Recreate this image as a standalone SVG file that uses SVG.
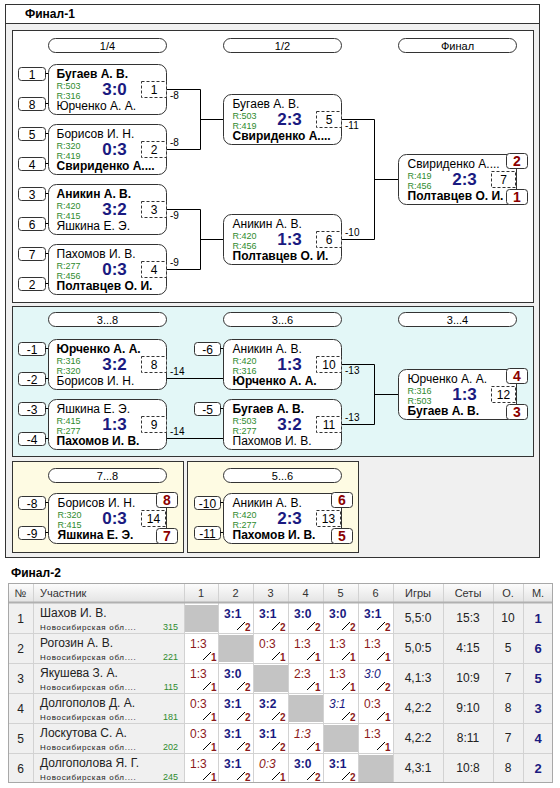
<svg xmlns="http://www.w3.org/2000/svg" width="560" height="788" viewBox="0 0 560 788">
<defs>
<linearGradient id="hg" x1="0" y1="0" x2="0" y2="1"><stop offset="0" stop-color="#fdfdfd"/><stop offset="1" stop-color="#e4e4e4"/></linearGradient>
<style>
text{font-family:"Liberation Sans",Arial,sans-serif;fill:#000}
.mb{fill:#fff;stroke:#333;stroke-width:1}
.sd{fill:#fff;stroke:#333;stroke-width:1}
.db{fill:#fff;stroke:#333;stroke-width:1;stroke-dasharray:3 2}
.pb{fill:#fff;stroke:#333;stroke-width:1}
.pill{fill:#fff;stroke:#333;stroke-width:1}
.cn{fill:none;stroke:#000;stroke-width:1}
.nb{font-size:12px;font-weight:bold}
.nn{font-size:12px}
.r{font-size:9px;fill:#2e8b2e}
.sc{font-size:17px;font-weight:bold;fill:#1a1a80;text-anchor:middle}
.dn{font-size:12px;text-anchor:middle}
.sn{font-size:12px;text-anchor:middle}
.pn{font-size:14px;font-weight:bold;fill:#8b0000;text-anchor:middle}
.lb{font-size:10px}
.pt{font-size:11px;text-anchor:middle}
.ttl{font-size:12px;font-weight:bold}
.th{font-size:11px;fill:#333}
.thc{font-size:11px;fill:#333;text-anchor:middle}
.tn{font-size:12px;fill:#222}
.tnc{font-size:12px;fill:#222;text-anchor:middle}
.rg{font-size:8px;fill:#222;letter-spacing:0.7px}
.rt{font-size:9px;fill:#2e8b2e;text-anchor:end}
.w{font-size:12px;font-weight:bold;fill:#1a1a80}
.wi{font-size:12px;font-style:italic;fill:#1a1a80}
.l{font-size:12px;fill:#8b1a1a}
.li{font-size:12px;font-style:italic;fill:#8b1a1a}
.d{font-size:10px;font-weight:bold;fill:#8b1a1a}
.sl{stroke:#000;stroke-width:1}
.gr{fill:#c4c4c4}
.pm{font-size:13px;font-weight:bold;fill:#1a1a80;text-anchor:middle}
.grid{stroke:#d2d2d2;stroke-width:1}
</style>
</defs>
<rect x="0" y="0" width="560" height="788" fill="#fff"/>
<g id="frame">
<rect x="5.5" y="4.5" width="534" height="553" fill="#f0f0f0" stroke="#333"/>
<rect x="5.5" y="4.5" width="534" height="19" fill="#fff" stroke="#333"/>
<text class="ttl" x="25" y="18">Финал-1</text>
<rect x="12.5" y="30.5" width="521" height="272" fill="#fff" stroke="#333"/>
<rect x="12.5" y="306.5" width="521" height="150" fill="#e3f7f7" stroke="#333"/>
<rect x="12.5" y="461.5" width="171" height="91" fill="#fefbe3" stroke="#333"/>
<rect x="187.5" y="461.5" width="171" height="91" fill="#fefbe3" stroke="#333"/>
</g>
<g id="pills">
<rect class="pill" x="48.5" y="38.5" width="118" height="14" rx="7"/><text class="pt" x="107.5" y="49.5">1/4</text>
<rect class="pill" x="223.5" y="38.5" width="118" height="14" rx="7"/><text class="pt" x="282.5" y="49.5">1/2</text>
<rect class="pill" x="398.5" y="38.5" width="118" height="14" rx="7"/><text class="pt" x="457.5" y="49.5">Финал</text>
<rect class="pill" x="48.5" y="312.5" width="118" height="14" rx="7"/><text class="pt" x="107.5" y="323.5">3...8</text>
<rect class="pill" x="223.5" y="312.5" width="118" height="14" rx="7"/><text class="pt" x="282.5" y="323.5">3...6</text>
<rect class="pill" x="398.5" y="312.5" width="118" height="14" rx="7"/><text class="pt" x="457.5" y="323.5">3...4</text>
<rect class="pill" x="48.5" y="468.5" width="118" height="14" rx="7"/><text class="pt" x="107.5" y="479.5">7...8</text>
<rect class="pill" x="223.5" y="468.5" width="118" height="14" rx="7"/><text class="pt" x="282.5" y="479.5">5...6</text>
</g>
<g id="connectors">
<path class="cn" d="M166 89.5H200.5V149.5H166M200.5 119.5H223"/>
<path class="cn" d="M166 209.5H200.5V269.5H166M200.5 239.5H223"/>
<path class="cn" d="M341 119.5H374.5V239.5H341M374.5 179.5H398"/>
<path class="cn" d="M166 378.5H223M166 438.5H223"/>
<path class="cn" d="M341 364.5H374.5V424.5H341M374.5 394.5H398"/>
<text class="lb" x="170" y="99">-8</text>
<text class="lb" x="170" y="146">-8</text>
<text class="lb" x="170" y="219">-9</text>
<text class="lb" x="170" y="266">-9</text>
<text class="lb" x="345" y="129">-11</text>
<text class="lb" x="345" y="236">-10</text>
<text class="lb" x="170" y="375">-14</text>
<text class="lb" x="170" y="435">-14</text>
<text class="lb" x="345" y="374">-13</text>
<text class="lb" x="345" y="421">-13</text>
</g>
<g id="m1" transform="translate(48.5,64.5)">
<rect class="sd" x="-30" y="3" width="27" height="13" rx="3"/><path class="cn" d="M-3 9H0"/><text class="sn" x="-16.5" y="14">1</text>
<rect class="sd" x="-30" y="33" width="27" height="13" rx="3"/><path class="cn" d="M-3 39H0"/><text class="sn" x="-16.5" y="44">8</text>
<rect class="mb" x="0" y="0" width="118" height="50" rx="8"/>
<text class="nb" x="8" y="13">Бугаев А. В.</text><text class="r" x="8" y="24">R:503</text><text class="r" x="8" y="34">R:316</text><text class="nn" x="8" y="45.5">Юрченко А. А.</text>
<text class="sc" x="66" y="30">3:0</text>
<rect class="db" x="93" y="17" width="25" height="16"/><text class="dn" x="105.5" y="29.5">1</text>
</g>
<g id="m2" transform="translate(48.5,124.5)">
<rect class="sd" x="-30" y="3" width="27" height="13" rx="3"/><path class="cn" d="M-3 9H0"/><text class="sn" x="-16.5" y="14">5</text>
<rect class="sd" x="-30" y="33" width="27" height="13" rx="3"/><path class="cn" d="M-3 39H0"/><text class="sn" x="-16.5" y="44">4</text>
<rect class="mb" x="0" y="0" width="118" height="50" rx="8"/>
<text class="nn" x="8" y="13">Борисов И. Н.</text><text class="r" x="8" y="24">R:320</text><text class="r" x="8" y="34">R:419</text><text class="nb" x="8" y="45.5">Свириденко А....</text>
<text class="sc" x="66" y="30">0:3</text>
<rect class="db" x="93" y="17" width="25" height="16"/><text class="dn" x="105.5" y="29.5">2</text>
</g>
<g id="m3" transform="translate(48.5,184.5)">
<rect class="sd" x="-30" y="3" width="27" height="13" rx="3"/><path class="cn" d="M-3 9H0"/><text class="sn" x="-16.5" y="14">3</text>
<rect class="sd" x="-30" y="33" width="27" height="13" rx="3"/><path class="cn" d="M-3 39H0"/><text class="sn" x="-16.5" y="44">6</text>
<rect class="mb" x="0" y="0" width="118" height="50" rx="8"/>
<text class="nb" x="8" y="13">Аникин А. В.</text><text class="r" x="8" y="24">R:420</text><text class="r" x="8" y="34">R:415</text><text class="nn" x="8" y="45.5">Яшкина Е. Э.</text>
<text class="sc" x="66" y="30">3:2</text>
<rect class="db" x="93" y="17" width="25" height="16"/><text class="dn" x="105.5" y="29.5">3</text>
</g>
<g id="m4" transform="translate(48.5,244.5)">
<rect class="sd" x="-30" y="3" width="27" height="13" rx="3"/><path class="cn" d="M-3 9H0"/><text class="sn" x="-16.5" y="14">7</text>
<rect class="sd" x="-30" y="33" width="27" height="13" rx="3"/><path class="cn" d="M-3 39H0"/><text class="sn" x="-16.5" y="44">2</text>
<rect class="mb" x="0" y="0" width="118" height="50" rx="8"/>
<text class="nn" x="8" y="13">Пахомов И. В.</text><text class="r" x="8" y="24">R:277</text><text class="r" x="8" y="34">R:456</text><text class="nb" x="8" y="45.5">Полтавцев О. И.</text>
<text class="sc" x="66" y="30">0:3</text>
<rect class="db" x="93" y="17" width="25" height="16"/><text class="dn" x="105.5" y="29.5">4</text>
</g>
<g id="m5" transform="translate(223.5,94.5)">
<rect class="mb" x="0" y="0" width="118" height="50" rx="8"/>
<text class="nn" x="9" y="13">Бугаев А. В.</text><text class="r" x="9" y="24">R:503</text><text class="r" x="9" y="34">R:419</text><text class="nb" x="9" y="45.5">Свириденко А....</text>
<text class="sc" x="66" y="30">2:3</text>
<rect class="db" x="93" y="17" width="25" height="16"/><text class="dn" x="105.5" y="29.5">5</text>
</g>
<g id="m6" transform="translate(223.5,214.5)">
<rect class="mb" x="0" y="0" width="118" height="50" rx="8"/>
<text class="nn" x="9" y="13">Аникин А. В.</text><text class="r" x="9" y="24">R:420</text><text class="r" x="9" y="34">R:456</text><text class="nb" x="9" y="45.5">Полтавцев О. И.</text>
<text class="sc" x="66" y="30">1:3</text>
<rect class="db" x="93" y="17" width="25" height="16"/><text class="dn" x="105.5" y="29.5">6</text>
</g>
<g id="m7" transform="translate(398.5,154.5)">
<rect class="mb" x="0" y="0" width="118" height="50" rx="8"/>
<text class="nn" x="9" y="13">Свириденко А....</text><text class="r" x="9" y="24">R:419</text><text class="r" x="9" y="34">R:456</text><text class="nb" x="9" y="45.5">Полтавцев О. И.</text>
<text class="sc" x="66" y="30">2:3</text>
<rect class="db" x="93" y="17" width="24" height="16"/><text class="dn" x="105" y="29.5">7</text>
<rect class="pb" x="108" y="-1" width="21" height="15" rx="3"/><text class="pn" x="118.5" y="11.5">2</text>
<rect class="pb" x="108" y="35" width="21" height="15" rx="3"/><text class="pn" x="118.5" y="47.5">1</text>
</g>
<g id="m8" transform="translate(48.5,339.5)">
<rect class="sd" x="-30" y="3" width="27" height="13" rx="3"/><path class="cn" d="M-3 9H0"/><text class="sn" x="-16.5" y="14">-1</text>
<rect class="sd" x="-30" y="33" width="27" height="13" rx="3"/><path class="cn" d="M-3 39H0"/><text class="sn" x="-16.5" y="44">-2</text>
<rect class="mb" x="0" y="0" width="118" height="50" rx="8"/>
<text class="nb" x="8" y="13">Юрченко А. А.</text><text class="r" x="8" y="24">R:316</text><text class="r" x="8" y="34">R:320</text><text class="nn" x="8" y="45.5">Борисов И. Н.</text>
<text class="sc" x="66" y="30">3:2</text>
<rect class="db" x="93" y="17" width="25" height="16"/><text class="dn" x="105.5" y="29.5">8</text>
</g>
<g id="m9" transform="translate(48.5,399.5)">
<rect class="sd" x="-30" y="3" width="27" height="13" rx="3"/><path class="cn" d="M-3 9H0"/><text class="sn" x="-16.5" y="14">-3</text>
<rect class="sd" x="-30" y="33" width="27" height="13" rx="3"/><path class="cn" d="M-3 39H0"/><text class="sn" x="-16.5" y="44">-4</text>
<rect class="mb" x="0" y="0" width="118" height="50" rx="8"/>
<text class="nn" x="8" y="13">Яшкина Е. Э.</text><text class="r" x="8" y="24">R:415</text><text class="r" x="8" y="34">R:277</text><text class="nb" x="8" y="45.5">Пахомов И. В.</text>
<text class="sc" x="66" y="30">1:3</text>
<rect class="db" x="93" y="17" width="25" height="16"/><text class="dn" x="105.5" y="29.5">9</text>
</g>
<g id="m10" transform="translate(223.5,339.5)">
<rect class="sd" x="-29" y="3" width="26" height="13" rx="3"/><path class="cn" d="M-3 9H0"/><text class="sn" x="-16" y="14">-6</text>
<rect class="mb" x="0" y="0" width="118" height="50" rx="8"/>
<text class="nn" x="9" y="13">Аникин А. В.</text><text class="r" x="9" y="24">R:420</text><text class="r" x="9" y="34">R:316</text><text class="nb" x="9" y="45.5">Юрченко А. А.</text>
<text class="sc" x="66" y="30">1:3</text>
<rect class="db" x="93" y="17" width="25" height="16"/><text class="dn" x="105.5" y="29.5">10</text>
</g>
<g id="m11" transform="translate(223.5,399.5)">
<rect class="sd" x="-29" y="3" width="26" height="13" rx="3"/><path class="cn" d="M-3 9H0"/><text class="sn" x="-16" y="14">-5</text>
<rect class="mb" x="0" y="0" width="118" height="50" rx="8"/>
<text class="nb" x="9" y="13">Бугаев А. В.</text><text class="r" x="9" y="24">R:503</text><text class="r" x="9" y="34">R:277</text><text class="nn" x="9" y="45.5">Пахомов И. В.</text>
<text class="sc" x="66" y="30">3:2</text>
<rect class="db" x="93" y="17" width="25" height="16"/><text class="dn" x="105.5" y="29.5">11</text>
</g>
<g id="m12" transform="translate(398.5,369.5)">
<rect class="mb" x="0" y="0" width="118" height="50" rx="8"/>
<text class="nn" x="9" y="13">Юрченко А. А.</text><text class="r" x="9" y="24">R:316</text><text class="r" x="9" y="34">R:503</text><text class="nb" x="9" y="45.5">Бугаев А. В.</text>
<text class="sc" x="66" y="30">1:3</text>
<rect class="db" x="93" y="17" width="24" height="16"/><text class="dn" x="105" y="29.5">12</text>
<rect class="pb" x="108" y="-1" width="21" height="15" rx="3"/><text class="pn" x="118.5" y="11.5">4</text>
<rect class="pb" x="108" y="35" width="21" height="15" rx="3"/><text class="pn" x="118.5" y="47.5">3</text>
</g>
<g id="m14" transform="translate(48.5,493.5)">
<rect class="sd" x="-30" y="3" width="27" height="13" rx="3"/><path class="cn" d="M-3 9H0"/><text class="sn" x="-16.5" y="14">-8</text>
<rect class="sd" x="-30" y="33" width="27" height="13" rx="3"/><path class="cn" d="M-3 39H0"/><text class="sn" x="-16.5" y="44">-9</text>
<rect class="mb" x="0" y="0" width="118" height="50" rx="8"/>
<text class="nn" x="9" y="13">Борисов И. Н.</text><text class="r" x="9" y="24">R:320</text><text class="r" x="9" y="34">R:415</text><text class="nb" x="9" y="45.5">Яшкина Е. Э.</text>
<text class="sc" x="66" y="30">0:3</text>
<rect class="db" x="93" y="17" width="24" height="16"/><text class="dn" x="105" y="29.5">14</text>
<rect class="pb" x="108" y="-1" width="21" height="15" rx="3"/><text class="pn" x="118.5" y="11.5">8</text>
<rect class="pb" x="108" y="35" width="21" height="15" rx="3"/><text class="pn" x="118.5" y="47.5">7</text>
</g>
<g id="m13" transform="translate(223.5,493.5)">
<rect class="sd" x="-29" y="3" width="26" height="13" rx="3"/><path class="cn" d="M-3 9H0"/><text class="sn" x="-16" y="14">-10</text>
<rect class="sd" x="-29" y="33" width="26" height="13" rx="3"/><path class="cn" d="M-3 39H0"/><text class="sn" x="-16" y="44">-11</text>
<rect class="mb" x="0" y="0" width="118" height="50" rx="8"/>
<text class="nn" x="9" y="13">Аникин А. В.</text><text class="r" x="9" y="24">R:420</text><text class="r" x="9" y="34">R:277</text><text class="nb" x="9" y="45.5">Пахомов И. В.</text>
<text class="sc" x="66" y="30">2:3</text>
<rect class="db" x="93" y="17" width="24" height="16"/><text class="dn" x="105" y="29.5">13</text>
<rect class="pb" x="108" y="-1" width="21" height="15" rx="3"/><text class="pn" x="118.5" y="11.5">6</text>
<rect class="pb" x="108" y="35" width="21" height="15" rx="3"/><text class="pn" x="118.5" y="47.5">5</text>
</g>
<g id="table">
<text class="ttl" x="11" y="577">Финал-2</text>
<rect x="8" y="603" width="545" height="180" fill="#f0f0f0"/>
<rect x="184" y="603" width="209" height="180" fill="#fff"/>
<rect x="8" y="583" width="545" height="19" fill="url(#hg)"/>
<path class="grid" d="M8 633.5H553M8 663.5H553M8 693.5H553M8 723.5H553M8 753.5H553M33.5 583V783M184.5 583V783M218.5 583V783M253.5 583V783M288.5 583V783M323.5 583V783M358.5 583V783M393.5 583V783M443.5 583V783M493.5 583V783M523.5 583V783"/>
<path d="M8 602.5H553" stroke="#b0b0b0" stroke-width="2"/>
<rect x="8.5" y="583.5" width="544" height="199" fill="none" stroke="#a8a8a8"/>
<text class="thc" x="20.5" y="597">№</text>
<text class="th" x="40" y="597">Участник</text>
<text class="thc" x="201" y="597">1</text>
<text class="thc" x="235.5" y="597">2</text>
<text class="thc" x="270.5" y="597">3</text>
<text class="thc" x="305.5" y="597">4</text>
<text class="thc" x="340.5" y="597">5</text>
<text class="thc" x="375.5" y="597">6</text>
<text class="thc" x="418" y="597">Игры</text>
<text class="thc" x="468" y="597">Сеты</text>
<text class="thc" x="508" y="597">О.</text>
<text class="thc" x="538" y="597">М.</text>
<rect class="gr" x="185" y="605" width="33" height="27"/>
<rect class="gr" x="219" y="635" width="34" height="27"/>
<rect class="gr" x="254" y="665" width="34" height="27"/>
<rect class="gr" x="289" y="695" width="34" height="27"/>
<rect class="gr" x="324" y="725" width="34" height="27"/>
<rect class="gr" x="359" y="755" width="34" height="27"/>
</g>
<g id="row1">
<text class="tnc" x="20.5" y="623">1</text><text class="tn" x="40" y="617">Шахов И. В.</text><text class="rg" x="40" y="630">Новосибирская обл....</text><text class="rt" x="178" y="630">315</text>
<text class="w" x="224" y="618">3:1</text><line class="sl" x1="237" y1="630" x2="245" y2="622"/><text class="d" x="245" y="631">2</text>
<text class="w" x="259" y="618">3:1</text><line class="sl" x1="272" y1="630" x2="280" y2="622"/><text class="d" x="280" y="631">2</text>
<text class="w" x="294" y="618">3:0</text><line class="sl" x1="307" y1="630" x2="315" y2="622"/><text class="d" x="315" y="631">2</text>
<text class="w" x="329" y="618">3:0</text><line class="sl" x1="342" y1="630" x2="350" y2="622"/><text class="d" x="350" y="631">2</text>
<text class="w" x="364" y="618">3:1</text><line class="sl" x1="377" y1="630" x2="385" y2="622"/><text class="d" x="385" y="631">2</text>
<text class="tnc" x="418" y="622">5,5:0</text><text class="tnc" x="468" y="622">15:3</text><text class="tnc" x="508" y="622">10</text><text class="pm" x="538" y="623">1</text>
</g>
<g id="row2">
<text class="tnc" x="20.5" y="653">2</text><text class="tn" x="40" y="647">Рогозин А. В.</text><text class="rg" x="40" y="660">Новосибирская обл....</text><text class="rt" x="178" y="660">221</text>
<text class="l" x="190" y="648">1:3</text><line class="sl" x1="203" y1="660" x2="211" y2="652"/><text class="d" x="211" y="661">1</text>
<text class="l" x="259" y="648">0:3</text><line class="sl" x1="272" y1="660" x2="280" y2="652"/><text class="d" x="280" y="661">1</text>
<text class="l" x="294" y="648">1:3</text><line class="sl" x1="307" y1="660" x2="315" y2="652"/><text class="d" x="315" y="661">1</text>
<text class="l" x="329" y="648">1:3</text><line class="sl" x1="342" y1="660" x2="350" y2="652"/><text class="d" x="350" y="661">1</text>
<text class="l" x="364" y="648">1:3</text><line class="sl" x1="377" y1="660" x2="385" y2="652"/><text class="d" x="385" y="661">1</text>
<text class="tnc" x="418" y="652">5,0:5</text><text class="tnc" x="468" y="652">4:15</text><text class="tnc" x="508" y="652">5</text><text class="pm" x="538" y="653">6</text>
</g>
<g id="row3">
<text class="tnc" x="20.5" y="683">3</text><text class="tn" x="40" y="677">Якушева З. А.</text><text class="rg" x="40" y="690">Новосибирская обл....</text><text class="rt" x="178" y="690">115</text>
<text class="l" x="190" y="678">1:3</text><line class="sl" x1="203" y1="690" x2="211" y2="682"/><text class="d" x="211" y="691">1</text>
<text class="w" x="224" y="678">3:0</text><line class="sl" x1="237" y1="690" x2="245" y2="682"/><text class="d" x="245" y="691">2</text>
<text class="l" x="294" y="678">2:3</text><line class="sl" x1="307" y1="690" x2="315" y2="682"/><text class="d" x="315" y="691">1</text>
<text class="l" x="329" y="678">1:3</text><line class="sl" x1="342" y1="690" x2="350" y2="682"/><text class="d" x="350" y="691">1</text>
<text class="wi" x="364" y="678">3:0</text><line class="sl" x1="377" y1="690" x2="385" y2="682"/><text class="d" x="385" y="691">2</text>
<text class="tnc" x="418" y="682">4,1:3</text><text class="tnc" x="468" y="682">10:9</text><text class="tnc" x="508" y="682">7</text><text class="pm" x="538" y="683">5</text>
</g>
<g id="row4">
<text class="tnc" x="20.5" y="713">4</text><text class="tn" x="40" y="707">Долгополов Д. А.</text><text class="rg" x="40" y="720">Новосибирская обл....</text><text class="rt" x="178" y="720">181</text>
<text class="l" x="190" y="708">0:3</text><line class="sl" x1="203" y1="720" x2="211" y2="712"/><text class="d" x="211" y="721">1</text>
<text class="w" x="224" y="708">3:1</text><line class="sl" x1="237" y1="720" x2="245" y2="712"/><text class="d" x="245" y="721">2</text>
<text class="w" x="259" y="708">3:2</text><line class="sl" x1="272" y1="720" x2="280" y2="712"/><text class="d" x="280" y="721">2</text>
<text class="wi" x="329" y="708">3:1</text><line class="sl" x1="342" y1="720" x2="350" y2="712"/><text class="d" x="350" y="721">2</text>
<text class="l" x="364" y="708">0:3</text><line class="sl" x1="377" y1="720" x2="385" y2="712"/><text class="d" x="385" y="721">1</text>
<text class="tnc" x="418" y="712">4,2:2</text><text class="tnc" x="468" y="712">9:10</text><text class="tnc" x="508" y="712">8</text><text class="pm" x="538" y="713">3</text>
</g>
<g id="row5">
<text class="tnc" x="20.5" y="743">5</text><text class="tn" x="40" y="737">Лоскутова С. А.</text><text class="rg" x="40" y="750">Новосибирская обл....</text><text class="rt" x="178" y="750">202</text>
<text class="l" x="190" y="738">0:3</text><line class="sl" x1="203" y1="750" x2="211" y2="742"/><text class="d" x="211" y="751">1</text>
<text class="w" x="224" y="738">3:1</text><line class="sl" x1="237" y1="750" x2="245" y2="742"/><text class="d" x="245" y="751">2</text>
<text class="w" x="259" y="738">3:1</text><line class="sl" x1="272" y1="750" x2="280" y2="742"/><text class="d" x="280" y="751">2</text>
<text class="li" x="294" y="738">1:3</text><line class="sl" x1="307" y1="750" x2="315" y2="742"/><text class="d" x="315" y="751">1</text>
<text class="l" x="364" y="738">1:3</text><line class="sl" x1="377" y1="750" x2="385" y2="742"/><text class="d" x="385" y="751">1</text>
<text class="tnc" x="418" y="742">4,2:2</text><text class="tnc" x="468" y="742">8:11</text><text class="tnc" x="508" y="742">7</text><text class="pm" x="538" y="743">4</text>
</g>
<g id="row6">
<text class="tnc" x="20.5" y="773">6</text><text class="tn" x="40" y="767">Долгополова Я. Г.</text><text class="rg" x="40" y="780">Новосибирская обл....</text><text class="rt" x="178" y="780">245</text>
<text class="l" x="190" y="768">1:3</text><line class="sl" x1="203" y1="780" x2="211" y2="772"/><text class="d" x="211" y="781">1</text>
<text class="w" x="224" y="768">3:1</text><line class="sl" x1="237" y1="780" x2="245" y2="772"/><text class="d" x="245" y="781">2</text>
<text class="li" x="259" y="768">0:3</text><line class="sl" x1="272" y1="780" x2="280" y2="772"/><text class="d" x="280" y="781">1</text>
<text class="w" x="294" y="768">3:0</text><line class="sl" x1="307" y1="780" x2="315" y2="772"/><text class="d" x="315" y="781">2</text>
<text class="w" x="329" y="768">3:1</text><line class="sl" x1="342" y1="780" x2="350" y2="772"/><text class="d" x="350" y="781">2</text>
<text class="tnc" x="418" y="772">4,3:1</text><text class="tnc" x="468" y="772">10:8</text><text class="tnc" x="508" y="772">8</text><text class="pm" x="538" y="773">2</text>
</g>
</svg>
